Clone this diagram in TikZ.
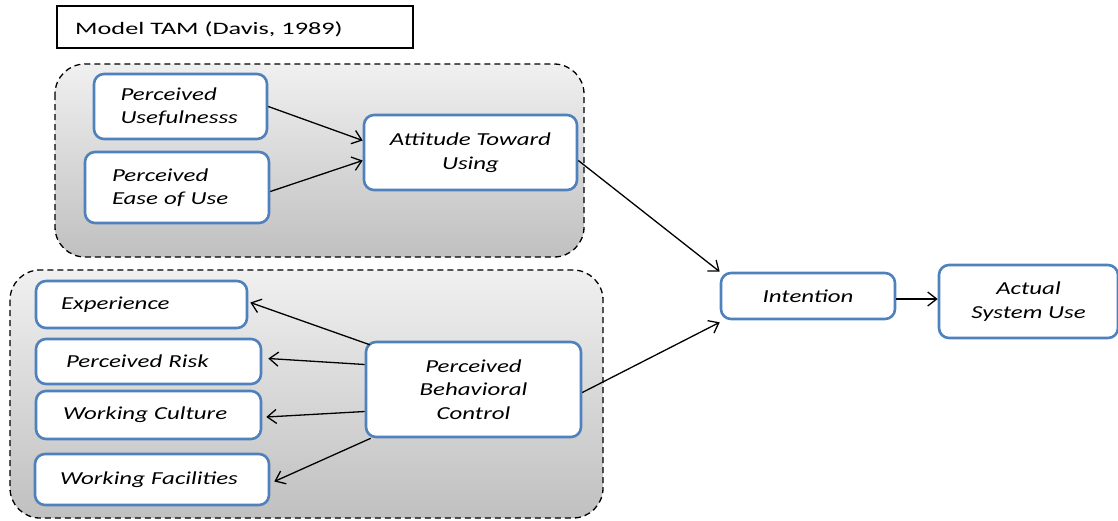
\documentclass[tikz,border=0pt]{standalone}
\usepackage{fontspec}
\setmainfont{Carlito}
\newfontfamily\boxfont{Carlito}[FakeStretch=1.36]
\newfontfamily\titlefont{Carlito}[FakeStretch=1.5]
\usetikzlibrary{arrows.meta,calc}
\definecolor{boxblue}{RGB}{79,129,189}
\definecolor{gtop}{RGB}{240,240,240}
\definecolor{gbot}{RGB}{192,192,192}
\tikzset{
  bx/.style={draw=boxblue, line width=2.6pt, rounded corners=10pt, fill=white,
    inner sep=0pt, font=\boxfont\fontsize{18.3}{23.5}\selectfont\itshape},
  grp/.style={draw=black, line width=1.3pt, dash pattern=on 6pt off 4pt,
    rounded corners=30pt, top color=gtop, bottom color=gbot},
  arr/.style={line width=1.3pt, -{Straight Barb[length=9pt,width=14pt,line width=1.3pt]}},
}
\begin{document}
\begin{tikzpicture}[x=1pt,y=-1pt]
\useasboundingbox (0,0) rectangle (1118,520);
% title
\node[draw=black, line width=1.3pt, minimum width=356pt, minimum height=42pt, inner sep=0pt,
  font=\titlefont\fontsize{17.5}{20}\selectfont] (title) at (235,27) {};
\node[anchor=base west, inner sep=0pt, font=\titlefont\fontsize{17.5}{20}\selectfont] (titletext) at (75,34) {Model TAM (Davis, 1989)};
% groups
\draw[grp] (55,64) rectangle (584,257);
\draw[grp] (10,270) rectangle (603,518);
% top group boxes
\node[bx, minimum width=173pt, minimum height=65pt, text width=120pt, align=left] (pu) at (180.5,106.5) {Perceived\\Usefulnesss};
\node[bx, minimum width=184pt, minimum height=71pt, text width=130pt, align=left] (peu) at (177,187.5) {Perceived\\Ease of Use};
\node[bx, minimum width=213pt, minimum height=75pt, align=center] (atu) at (470.5,152.5) {Attitude Toward\\Using};
% bottom group boxes
\node[bx, minimum width=211pt, minimum height=47pt, text width=161pt, align=left] (exp) at (141.5,304.5) {Experience};
\node[bx, minimum width=225pt, minimum height=45pt, text width=165pt, align=left] (pr) at (148.5,361.5) {Perceived Risk};
\node[bx, minimum width=225pt, minimum height=48pt, text width=171pt, align=left] (wc) at (148.5,415) {Working Culture};
\node[bx, minimum width=234pt, minimum height=51pt, text width=184pt, align=left] (wf) at (152,479.5) {Working Facilities};
\node[bx, minimum width=215pt, minimum height=95pt, align=center] (pbc) at (473.5,389.5) {Perceived\\Behavioral\\Control};
% right boxes
\node[bx, minimum width=174pt, minimum height=46pt] (int) at (808,296) {Intention};
\node[bx, minimum width=179pt, minimum height=73pt, align=center] (asu) at (1028.5,301.5) {Actual\\System Use};
% arrows
\draw[arr] (pu.east) -- ([yshift=12pt]atu.west);
\draw[arr] ([yshift=-4pt]peu.east) -- ([yshift=-8pt]atu.west);
\draw[arr] ([yshift=-8pt]atu.east) -- (int.north west);
\draw[arr] ([yshift=-3pt]pbc.east) -- ([yshift=-2pt]int.south west);
\draw[arr] ([yshift=-3pt]int.east) -- ([yshift=-3pt]int.east -| asu.west);
\draw[arr] ([xshift=5pt,yshift=-4pt]pbc.north west) -- ([xshift=2pt,yshift=2pt]exp.east);
\draw[arr] ([yshift=25pt]pbc.west) -- ([xshift=6pt,yshift=3pt]pr.east);
\draw[arr] ([yshift=-22pt]pbc.west) -- ([xshift=4pt,yshift=-2pt]wc.east);
\draw[arr] ([xshift=6pt]pbc.south west) -- ([xshift=4pt,yshift=-2pt]wf.east);
\end{tikzpicture}
\end{document}
